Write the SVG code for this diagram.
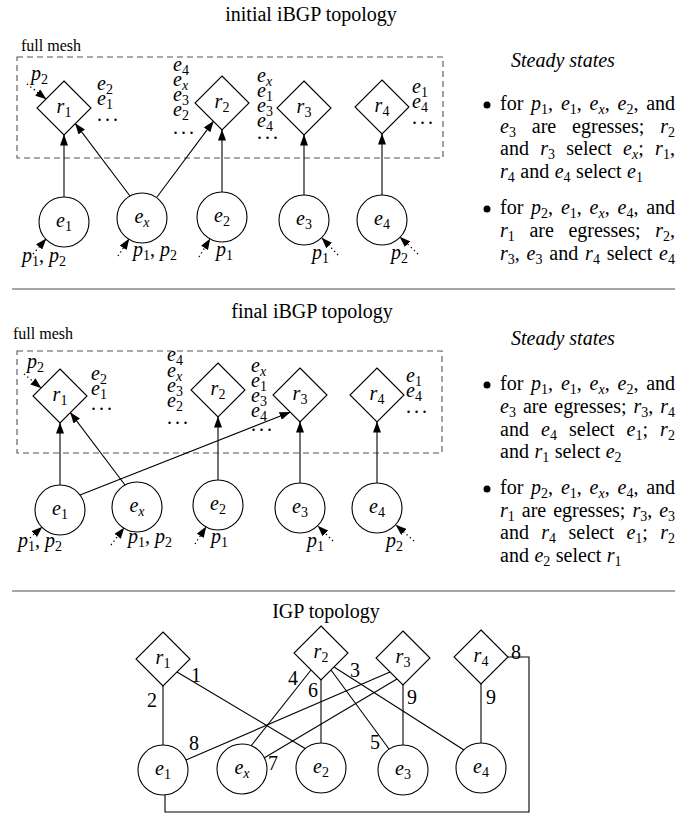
<svg xmlns="http://www.w3.org/2000/svg" width="691" height="815" viewBox="0 0 691 815" font-family="'Liberation Serif', 'DejaVu Serif', serif">
<defs>
<marker id="ah" markerWidth="11" markerHeight="8" refX="10.5" refY="4" orient="auto" markerUnits="userSpaceOnUse"><path d="M0,0 L11,4 L0,8 z" fill="#000"/></marker>
<style>
text { font-family: "Liberation Serif", "DejaVu Serif", serif; font-size: 20px; fill: #000; }
.m { font-style: italic; }
.s { font-size: 14px; }
.fm { font-size: 16px; }
.c { text-anchor: middle; }
.dots { letter-spacing: 3px; }
.node { fill: #fff; stroke: #000; stroke-width: 1.1; }
.edge { stroke: #000; stroke-width: 1.1; fill: none; }
.arr { marker-end: url(#ah); }
.dot { stroke: #000; stroke-width: 1.3; stroke-dasharray: 1.3 3; fill: none; marker-end: url(#ah); }
.mesh { fill: none; stroke: #555; stroke-width: 1.1; stroke-dasharray: 6 4; }
.sep { stroke: #888; stroke-width: 1.4; }
.bul { fill: #000; }
</style>
</defs>
<rect width="691" height="815" fill="#fff"/>

<!-- ============ initial iBGP topology ============ -->
<g id="initial-frame">
<text class="c" x="311" y="21">initial iBGP topology</text>
<text class="fm" x="21" y="51">full mesh</text>
<rect class="mesh" x="17" y="57" width="426" height="101"/>
</g>
<g id="initial-connectors">
<path class="edge arr" d="M64,197 L64,135"/>
<path class="edge arr" d="M130,196 L75.4,123.6"/>
<path class="edge arr" d="M157,197 L213.4,121.4"/>
<path class="edge arr" d="M222,192 L222,130"/>
<path class="edge arr" d="M304,195 L304,135"/>
<path class="edge arr" d="M382,195 L382,134"/>
<path class="dot" d="M27,84 L46,99"/>
<path class="dot" d="M33,254 L46,239"/>
<path class="dot" d="M118,256 L129,239"/>
<path class="dot" d="M199,257 L210,239"/>
<path class="dot" d="M338,255 L322,238"/>
<path class="dot" d="M418,254 L400,237"/>
</g>
<g id="t-r1">
<polygon class="node" points="64,81 91,108 64,135 37,108"/>
<text class="c" x="64" y="112.5"><tspan class="m">r</tspan><tspan class="s" dy="4">1</tspan></text>
<text x="97" y="90"><tspan class="m">e</tspan><tspan class="s" dy="4">2</tspan><tspan x="97" dy="11" class="m">e</tspan><tspan class="s" dy="4">1</tspan><tspan x="97" dy="12" class="dots">...</tspan></text>
<text x="31" y="80"><tspan class="m">p</tspan><tspan class="s" dy="4">2</tspan></text>
</g>
<g id="t-r2">
<polygon class="node" points="222,76 249,103 222,130 195,103"/>
<text class="c" x="222" y="107.5"><tspan class="m">r</tspan><tspan class="s" dy="4">2</tspan></text>
<text x="173" y="71"><tspan class="m">e</tspan><tspan class="s" dy="4">4</tspan><tspan x="173" dy="11" class="m">e</tspan><tspan class="s m" dy="4">x</tspan><tspan x="173" dy="11" class="m">e</tspan><tspan class="s" dy="4">3</tspan><tspan x="173" dy="11" class="m">e</tspan><tspan class="s" dy="4">2</tspan><tspan x="173" dy="14" class="dots">...</tspan></text>
</g>
<g id="t-r3">
<polygon class="node" points="304,81 331,108 304,135 277,108"/>
<text class="c" x="304" y="112.5"><tspan class="m">r</tspan><tspan class="s" dy="4">3</tspan></text>
<text x="257" y="82"><tspan class="m">e</tspan><tspan class="s m" dy="4">x</tspan><tspan x="257" dy="11" class="m">e</tspan><tspan class="s" dy="4">1</tspan><tspan x="257" dy="11" class="m">e</tspan><tspan class="s" dy="4">3</tspan><tspan x="257" dy="11" class="m">e</tspan><tspan class="s" dy="4">4</tspan><tspan x="257" dy="8" class="dots">...</tspan></text>
</g>
<g id="t-r4">
<polygon class="node" points="382,80 409,107 382,134 355,107"/>
<text class="c" x="382" y="111.5"><tspan class="m">r</tspan><tspan class="s" dy="4">4</tspan></text>
<text x="412" y="93"><tspan class="m">e</tspan><tspan class="s" dy="4">1</tspan><tspan x="412" dy="11" class="m">e</tspan><tspan class="s" dy="4">4</tspan><tspan x="412" dy="12" class="dots">...</tspan></text>
</g>
<g id="t-e1">
<circle class="node" cx="64" cy="222" r="25"/>
<text class="c" x="64" y="226.5"><tspan class="m">e</tspan><tspan class="s" dy="4">1</tspan></text>
<text x="22" y="262"><tspan class="m">p</tspan><tspan class="s" dy="4">1</tspan><tspan dy="-4">, </tspan><tspan class="m">p</tspan><tspan class="s" dy="4">2</tspan></text>
</g>
<g id="t-ex">
<circle class="node" cx="142" cy="218" r="25"/>
<text class="c" x="142" y="222.5"><tspan class="m">e</tspan><tspan class="s m" dy="4">x</tspan></text>
<text x="133" y="256"><tspan class="m">p</tspan><tspan class="s" dy="4">1</tspan><tspan dy="-4">, </tspan><tspan class="m">p</tspan><tspan class="s" dy="4">2</tspan></text>
</g>
<g id="t-e2">
<circle class="node" cx="222" cy="217" r="25"/>
<text class="c" x="222" y="221.5"><tspan class="m">e</tspan><tspan class="s" dy="4">2</tspan></text>
<text x="216" y="256"><tspan class="m">p</tspan><tspan class="s" dy="4">1</tspan></text>
</g>
<g id="t-e3">
<circle class="node" cx="304" cy="220" r="25"/>
<text class="c" x="304" y="224.5"><tspan class="m">e</tspan><tspan class="s" dy="4">3</tspan></text>
<text x="312" y="259"><tspan class="m">p</tspan><tspan class="s" dy="4">1</tspan></text>
</g>
<g id="t-e4">
<circle class="node" cx="382" cy="220" r="25"/>
<text class="c" x="382" y="224.5"><tspan class="m">e</tspan><tspan class="s" dy="4">4</tspan></text>
<text x="391" y="259"><tspan class="m">p</tspan><tspan class="s" dy="4">2</tspan></text>
</g>
<g id="t-steady">
<text class="m" x="511" y="67">Steady states</text>
<circle class="bul" cx="487" cy="105" r="3.5"/>
<text y="110"><tspan x="500">for</tspan><tspan x="531.1" class="m">p</tspan><tspan class="s" dy="4">1</tspan><tspan dy="-4">,</tspan><tspan x="560.9" class="m">e</tspan><tspan class="s" dy="4">1</tspan><tspan dy="-4">,</tspan><tspan x="589.6" class="m">e</tspan><tspan class="s m" dy="4">x</tspan><tspan dy="-4">,</tspan><tspan x="617.5" class="m">e</tspan><tspan class="s" dy="4">2</tspan><tspan dy="-4">,</tspan><tspan x="646.2">and</tspan></text>
<text y="133"><tspan x="500" class="m">e</tspan><tspan class="s" dy="4">3</tspan><tspan x="531.8" dy="-4">are</tspan><tspan x="572.1">egresses;</tspan><tspan x="660.2" class="m">r</tspan><tspan class="s" dy="4">2</tspan></text>
<text y="155"><tspan x="500">and</tspan><tspan x="540.2" class="m">r</tspan><tspan class="s" dy="4">3</tspan><tspan x="566.3" dy="-4">select</tspan><tspan x="623.1" class="m">e</tspan><tspan class="s m" dy="4">x</tspan><tspan dy="-4">;</tspan><tspan x="655.1" class="m">r</tspan><tspan class="s" dy="4">1</tspan><tspan dy="-4">,</tspan></text>
<text y="178"><tspan x="500" class="m">r</tspan><tspan class="s" dy="4">4</tspan><tspan x="520.3" dy="-4">and</tspan><tspan x="554.7" class="m">e</tspan><tspan class="s" dy="4">4</tspan><tspan x="576.1" dy="-4">select</tspan><tspan x="627.1" class="m">e</tspan><tspan class="s" dy="4">1</tspan></text>
<circle class="bul" cx="487" cy="209" r="3.5"/>
<text y="214"><tspan x="500">for</tspan><tspan x="531.1" class="m">p</tspan><tspan class="s" dy="4">2</tspan><tspan dy="-4">,</tspan><tspan x="560.9" class="m">e</tspan><tspan class="s" dy="4">1</tspan><tspan dy="-4">,</tspan><tspan x="589.6" class="m">e</tspan><tspan class="s m" dy="4">x</tspan><tspan dy="-4">,</tspan><tspan x="617.5" class="m">e</tspan><tspan class="s" dy="4">4</tspan><tspan dy="-4">,</tspan><tspan x="646.2">and</tspan></text>
<text y="237"><tspan x="500" class="m">r</tspan><tspan class="s" dy="4">1</tspan><tspan x="529.4" dy="-4">are</tspan><tspan x="568.4">egresses;</tspan><tspan x="655.2" class="m">r</tspan><tspan class="s" dy="4">2</tspan><tspan dy="-4">,</tspan></text>
<text y="260"><tspan x="500" class="m">r</tspan><tspan class="s" dy="4">3</tspan><tspan dy="-4">,</tspan><tspan x="526.6" class="m">e</tspan><tspan class="s" dy="4">3</tspan><tspan x="549.3" dy="-4">and</tspan><tspan x="585.1" class="m">r</tspan><tspan class="s" dy="4">4</tspan><tspan x="606.7" dy="-4">select</tspan><tspan x="659.1" class="m">e</tspan><tspan class="s" dy="4">4</tspan></text>
</g>
<line class="sep" x1="12" y1="289" x2="675" y2="289"/>

<!-- ============ final iBGP topology ============ -->
<g id="final-frame">
<text class="c" x="312" y="318">final iBGP topology</text>
<text class="fm" x="13" y="339">full mesh</text>
<rect class="mesh" x="17" y="351" width="425" height="102"/>
</g>
<g id="final-connectors">
<path class="edge arr" d="M60,485 L60,423"/>
<path class="edge arr" d="M125,485 L70.4,412.6"/>
<path class="edge arr" d="M80,495 L290.1,412.2"/>
<path class="edge arr" d="M218,480 L218,417"/>
<path class="edge arr" d="M300,483 L300,422"/>
<path class="edge arr" d="M377,483 L377,422"/>
<path class="dot" d="M24,374 L41,388"/>
<path class="dot" d="M30,538 L42,527"/>
<path class="dot" d="M111,545 L124,528"/>
<path class="dot" d="M195,544 L206,527"/>
<path class="dot" d="M333,541 L318,526"/>
<path class="dot" d="M414,541 L396,525"/>
</g>
<g id="f-r1">
<polygon class="node" points="60,369 87,396 60,423 33,396"/>
<text class="c" x="60" y="400.5"><tspan class="m">r</tspan><tspan class="s" dy="4">1</tspan></text>
<text x="91" y="380"><tspan class="m">e</tspan><tspan class="s" dy="4">2</tspan><tspan x="91" dy="11" class="m">e</tspan><tspan class="s" dy="4">1</tspan><tspan x="91" dy="11" class="dots">...</tspan></text>
<text x="27" y="368"><tspan class="m">p</tspan><tspan class="s" dy="4">2</tspan></text>
</g>
<g id="f-r2">
<polygon class="node" points="218,363 245,390 218,417 191,390"/>
<text class="c" x="218" y="394.5"><tspan class="m">r</tspan><tspan class="s" dy="4">2</tspan></text>
<text x="167" y="361"><tspan class="m">e</tspan><tspan class="s" dy="4">4</tspan><tspan x="167" dy="12" class="m">e</tspan><tspan class="s m" dy="4">x</tspan><tspan x="167" dy="11" class="m">e</tspan><tspan class="s" dy="4">3</tspan><tspan x="167" dy="11" class="m">e</tspan><tspan class="s" dy="4">2</tspan><tspan x="167" dy="13" class="dots">...</tspan></text>
</g>
<g id="f-r3">
<polygon class="node" points="300,368 327,395 300,422 273,395"/>
<text class="c" x="300" y="399.5"><tspan class="m">r</tspan><tspan class="s" dy="4">3</tspan></text>
<text x="251" y="372"><tspan class="m">e</tspan><tspan class="s m" dy="4">x</tspan><tspan x="251" dy="11" class="m">e</tspan><tspan class="s" dy="4">1</tspan><tspan x="251" dy="11" class="m">e</tspan><tspan class="s" dy="4">3</tspan><tspan x="251" dy="11" class="m">e</tspan><tspan class="s" dy="4">4</tspan><tspan x="251" dy="10" class="dots">...</tspan></text>
</g>
<g id="f-r4">
<polygon class="node" points="377,368 404,395 377,422 350,395"/>
<text class="c" x="377" y="399.5"><tspan class="m">r</tspan><tspan class="s" dy="4">4</tspan></text>
<text x="406" y="382"><tspan class="m">e</tspan><tspan class="s" dy="4">1</tspan><tspan x="406" dy="11" class="m">e</tspan><tspan class="s" dy="4">4</tspan><tspan x="406" dy="12" class="dots">...</tspan></text>
</g>
<g id="f-e1">
<circle class="node" cx="60" cy="510" r="25"/>
<text class="c" x="60" y="514.5"><tspan class="m">e</tspan><tspan class="s" dy="4">1</tspan></text>
<text x="18" y="547"><tspan class="m">p</tspan><tspan class="s" dy="4">1</tspan><tspan dy="-4">, </tspan><tspan class="m">p</tspan><tspan class="s" dy="4">2</tspan></text>
</g>
<g id="f-ex">
<circle class="node" cx="137" cy="507" r="25"/>
<text class="c" x="137" y="511.5"><tspan class="m">e</tspan><tspan class="s m" dy="4">x</tspan></text>
<text x="128" y="543"><tspan class="m">p</tspan><tspan class="s" dy="4">1</tspan><tspan dy="-4">, </tspan><tspan class="m">p</tspan><tspan class="s" dy="4">2</tspan></text>
</g>
<g id="f-e2">
<circle class="node" cx="218" cy="505" r="25"/>
<text class="c" x="218" y="509.5"><tspan class="m">e</tspan><tspan class="s" dy="4">2</tspan></text>
<text x="211" y="543"><tspan class="m">p</tspan><tspan class="s" dy="4">1</tspan></text>
</g>
<g id="f-e3">
<circle class="node" cx="300" cy="508" r="25"/>
<text class="c" x="300" y="512.5"><tspan class="m">e</tspan><tspan class="s" dy="4">3</tspan></text>
<text x="307" y="547"><tspan class="m">p</tspan><tspan class="s" dy="4">1</tspan></text>
</g>
<g id="f-e4">
<circle class="node" cx="377" cy="508" r="25"/>
<text class="c" x="377" y="512.5"><tspan class="m">e</tspan><tspan class="s" dy="4">4</tspan></text>
<text x="386" y="547"><tspan class="m">p</tspan><tspan class="s" dy="4">2</tspan></text>
</g>
<g id="f-steady">
<text class="m" x="511" y="345">Steady states</text>
<circle class="bul" cx="487" cy="385" r="3.5"/>
<text y="390"><tspan x="500">for</tspan><tspan x="531.1" class="m">p</tspan><tspan class="s" dy="4">1</tspan><tspan dy="-4">,</tspan><tspan x="560.9" class="m">e</tspan><tspan class="s" dy="4">1</tspan><tspan dy="-4">,</tspan><tspan x="589.6" class="m">e</tspan><tspan class="s m" dy="4">x</tspan><tspan dy="-4">,</tspan><tspan x="617.5" class="m">e</tspan><tspan class="s" dy="4">2</tspan><tspan dy="-4">,</tspan><tspan x="646.2">and</tspan></text>
<text y="413"><tspan x="500" class="m">e</tspan><tspan class="s" dy="4">3</tspan><tspan x="522.9" dy="-4">are</tspan><tspan x="554.3">egresses;</tspan><tspan x="633.5" class="m">r</tspan><tspan class="s" dy="4">3</tspan><tspan dy="-4">,</tspan><tspan x="660.3" class="m">r</tspan><tspan class="s" dy="4">4</tspan></text>
<text y="436"><tspan x="500">and</tspan><tspan x="541" class="m">e</tspan><tspan class="s" dy="4">4</tspan><tspan x="569" dy="-4">select</tspan><tspan x="626.6" class="m">e</tspan><tspan class="s" dy="4">1</tspan><tspan dy="-4">;</tspan><tspan x="660.1" class="m">r</tspan><tspan class="s" dy="4">2</tspan></text>
<text y="458"><tspan x="500">and</tspan><tspan x="534.4" class="m">r</tspan><tspan class="s" dy="4">1</tspan><tspan x="554.7" dy="-4">select</tspan><tspan x="605.7" class="m">e</tspan><tspan class="s" dy="4">2</tspan></text>
<circle class="bul" cx="487" cy="489" r="3.5"/>
<text y="494"><tspan x="500">for</tspan><tspan x="531.1" class="m">p</tspan><tspan class="s" dy="4">2</tspan><tspan dy="-4">,</tspan><tspan x="560.9" class="m">e</tspan><tspan class="s" dy="4">1</tspan><tspan dy="-4">,</tspan><tspan x="589.6" class="m">e</tspan><tspan class="s m" dy="4">x</tspan><tspan dy="-4">,</tspan><tspan x="617.5" class="m">e</tspan><tspan class="s" dy="4">4</tspan><tspan dy="-4">,</tspan><tspan x="646.2">and</tspan></text>
<text y="517"><tspan x="500" class="m">r</tspan><tspan class="s" dy="4">1</tspan><tspan x="521.8" dy="-4">are</tspan><tspan x="553.2">egresses;</tspan><tspan x="632.4" class="m">r</tspan><tspan class="s" dy="4">3</tspan><tspan dy="-4">,</tspan><tspan x="659.2" class="m">e</tspan><tspan class="s" dy="4">3</tspan></text>
<text y="539"><tspan x="500">and</tspan><tspan x="541.3" class="m">r</tspan><tspan class="s" dy="4">4</tspan><tspan x="568.5" dy="-4">select</tspan><tspan x="626.4" class="m">e</tspan><tspan class="s" dy="4">1</tspan><tspan dy="-4">;</tspan><tspan x="660.2" class="m">r</tspan><tspan class="s" dy="4">2</tspan></text>
<text y="562"><tspan x="500">and</tspan><tspan x="534.4" class="m">e</tspan><tspan class="s" dy="4">2</tspan><tspan x="555.8" dy="-4">select</tspan><tspan x="606.8" class="m">r</tspan><tspan class="s" dy="4">1</tspan></text>
</g>
<line class="sep" x1="12" y1="591" x2="675" y2="591"/>

<!-- ============ IGP topology ============ -->
<text class="c" x="326" y="618">IGP topology</text>
<g id="igp-connectors">
<path class="edge" d="M163,686 L163,745"/>
<path class="edge" d="M177,672 L306,749"/>
<path class="edge" d="M311,670 L251,746"/>
<path class="edge" d="M321,680 L321,743"/>
<path class="edge" d="M331,670 L389,749"/>
<path class="edge" d="M334,667 L464,750"/>
<path class="edge" d="M390,672 L186,760"/>
<path class="edge" d="M397,679 L264,758"/>
<path class="edge" d="M403,685 L403,745"/>
<path class="edge" d="M481,684 L481,743"/>
<path class="edge" d="M508,657 L529,657 L529,812 L165,812 L165,795"/>
<text class="c" x="152" y="707">2</text>
<text class="c" x="196" y="682">1</text>
<text class="c" x="293" y="685">4</text>
<text class="c" x="313" y="697">6</text>
<text class="c" x="355" y="677">3</text>
<text class="c" x="375" y="749">5</text>
<text class="c" x="194" y="750">8</text>
<text class="c" x="273" y="770">7</text>
<text class="c" x="412" y="704">9</text>
<text class="c" x="491" y="704">9</text>
<text class="c" x="516" y="659">8</text>
</g>
<g id="g-r1">
<polygon class="node" points="163,632 190,659 163,686 136,659"/>
<text class="c" x="163" y="663.5"><tspan class="m">r</tspan><tspan class="s" dy="4">1</tspan></text>
</g>
<g id="g-r2">
<polygon class="node" points="321,626 348,653 321,680 294,653"/>
<text class="c" x="321" y="657.5"><tspan class="m">r</tspan><tspan class="s" dy="4">2</tspan></text>
</g>
<g id="g-r3">
<polygon class="node" points="403,631 430,658 403,685 376,658"/>
<text class="c" x="403" y="662.5"><tspan class="m">r</tspan><tspan class="s" dy="4">3</tspan></text>
</g>
<g id="g-r4">
<polygon class="node" points="481,630 508,657 481,684 454,657"/>
<text class="c" x="481" y="661.5"><tspan class="m">r</tspan><tspan class="s" dy="4">4</tspan></text>
</g>
<g id="g-e1">
<circle class="node" cx="163" cy="770" r="25"/>
<text class="c" x="163" y="774.5"><tspan class="m">e</tspan><tspan class="s" dy="4">1</tspan></text>
</g>
<g id="g-ex">
<circle class="node" cx="242" cy="769" r="25"/>
<text class="c" x="242" y="773.5"><tspan class="m">e</tspan><tspan class="s m" dy="4">x</tspan></text>
</g>
<g id="g-e2">
<circle class="node" cx="321" cy="768" r="25"/>
<text class="c" x="321" y="772.5"><tspan class="m">e</tspan><tspan class="s" dy="4">2</tspan></text>
</g>
<g id="g-e3">
<circle class="node" cx="403" cy="770" r="25"/>
<text class="c" x="403" y="774.5"><tspan class="m">e</tspan><tspan class="s" dy="4">3</tspan></text>
</g>
<g id="g-e4">
<circle class="node" cx="481" cy="768" r="25"/>
<text class="c" x="481" y="772.5"><tspan class="m">e</tspan><tspan class="s" dy="4">4</tspan></text>
</g>
</svg>
